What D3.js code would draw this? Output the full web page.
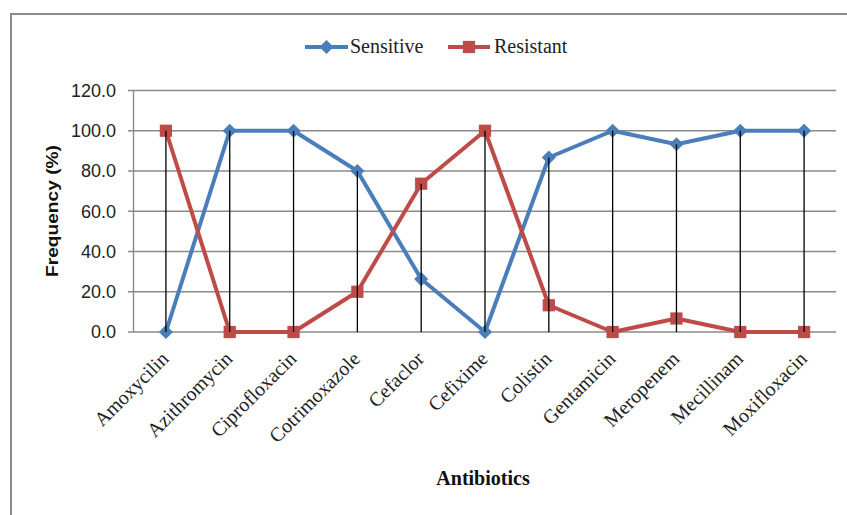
<!DOCTYPE html>
<html><head><meta charset="utf-8">
<script src="https://cdn.jsdelivr.net/npm/d3@7"></script>
<style>body{margin:0;background:#fff}svg{display:block}</style>
</head><body>
<svg id="c" width="847" height="515"></svg>
<script>
const categories = ["Amoxycilin","Azithromycin","Ciprofloxacin","Cotrimoxazole","Cefaclor","Cefixime","Colistin","Gentamicin","Meropenem","Mecillinam","Moxifloxacin"];
const sensitive = [0, 100, 100, 80, 26.3, 0, 86.7, 100, 93.3, 100, 100];
const resistant = [100, 0, 0, 20, 73.7, 100, 13.3, 0, 6.7, 0, 0];
const yTicks = [0, 20, 40, 60, 80, 100, 120];
const seriesNames = ["Sensitive", "Resistant"];

(function () {
const svg = d3.select("#c");
const W = 847, H = 515;
const pLeft = 134, pRight = 836, pTop = 90.5, pBottom = 332;
const blue = "#4a7ebb", red = "#be4b48", grid = "#8a8a8a";

// chart border
svg.append("rect").attr("x", 11).attr("y", 14).attr("width", W).attr("height", H)
  .attr("fill", "none").attr("stroke", "#8a8a8a").attr("stroke-width", 2);

const x = d3.scalePoint().domain(categories).range([pLeft, pRight]).padding(0.5);
const y = d3.scaleLinear().domain([0, 120]).range([pBottom, pTop]);

// gridlines
svg.append("g").selectAll("line").data(yTicks).join("line")
  .attr("x1", pLeft - 6).attr("x2", pRight)
  .attr("y1", d => y(d)).attr("y2", d => y(d))
  .attr("stroke", grid).attr("stroke-width", 1.4);
// y axis line
svg.append("line").attr("x1", pLeft - 0.5).attr("x2", pLeft - 0.5).attr("y1", y(120)).attr("y2", y(0))
  .attr("stroke", grid).attr("stroke-width", 1.4);

// y tick labels
svg.append("g").selectAll("text").data(yTicks).join("text")
  .attr("x", 116).attr("y", d => y(d)).attr("dy", "0.36em")
  .attr("text-anchor", "end")
  .attr("font-family", "Liberation Sans, Arial, sans-serif").attr("font-size", 18).attr("fill", "#222")
  .text(d => d3.format(".1f")(d));

// y title
svg.append("text").attr("transform", "translate(58,211) rotate(-90)")
  .attr("text-anchor", "middle")
  .attr("font-family", "Liberation Sans, Arial, sans-serif").attr("font-weight", "bold")
  .attr("font-size", 17).attr("fill", "#111")
  .attr("textLength", 132).attr("lengthAdjust", "spacingAndGlyphs")
  .text("Frequency (%)");

// x labels
svg.append("g").selectAll("text").data(categories).join("text")
  .attr("transform", d => `translate(${x(d) - 1},355) rotate(-45)`)
  .attr("dy", "0.35em")
  .attr("text-anchor", "end")
  .attr("font-family", "Liberation Serif, Times New Roman, serif").attr("font-size", 20).attr("fill", "#222")
  .text(d => d);

// x title
svg.append("text").attr("x", 483).attr("y", 485).attr("text-anchor", "middle")
  .attr("font-family", "Liberation Serif, Times New Roman, serif").attr("font-weight", "bold")
  .attr("font-size", 20).attr("fill", "#111").text("Antibiotics");

// lines
const line = d3.line().x((d, i) => x(categories[i])).y(d => y(d));
svg.append("path").datum(sensitive).attr("d", line).attr("fill", "none")
  .attr("stroke", blue).attr("stroke-width", 4).attr("stroke-linejoin", "round");
svg.append("path").datum(resistant).attr("d", line).attr("fill", "none")
  .attr("stroke", red).attr("stroke-width", 4).attr("stroke-linejoin", "round");

const dia = d3.symbol().type(d3.symbolSquare).size(100);
const sq = d3.symbol().type(d3.symbolSquare).size(150);

svg.append("g").selectAll("path").data(sensitive).join("path")
  .attr("transform", (d, i) => `translate(${x(categories[i])},${y(d)}) rotate(45)`)
  .attr("d", dia).attr("fill", blue);
svg.append("g").selectAll("path").data(resistant).join("path")
  .attr("transform", (d, i) => `translate(${x(categories[i])},${y(d)})`)
  .attr("d", sq).attr("fill", red);

// drop lines
svg.append("g").selectAll("line").data(categories).join("line")
  .attr("x1", d => x(d)).attr("x2", d => x(d))
  .attr("y1", (d, i) => y(Math.max(sensitive[i], resistant[i])))
  .attr("y2", y(0))
  .attr("stroke", "#000").attr("stroke-width", 1.3);

// legend
const lg = svg.append("g");
const leg = [
  {name: seriesNames[0], color: blue, x0: 305, x1: 348, tx: 350, sym: "d"},
  {name: seriesNames[1], color: red, x0: 448, x1: 490, tx: 494, sym: "s"}
];
leg.forEach(l => {
  lg.append("line").attr("x1", l.x0).attr("x2", l.x1).attr("y1", 47).attr("y2", 47)
    .attr("stroke", l.color).attr("stroke-width", 4);
  const cx = (l.x0 + l.x1) / 2;
  if (l.sym === "d") {
    lg.append("path").attr("transform", `translate(${cx},47) rotate(45)`).attr("d", dia).attr("fill", l.color);
  } else {
    lg.append("path").attr("transform", `translate(${cx},47)`).attr("d", sq).attr("fill", l.color);
  }
  lg.append("text").attr("x", l.tx).attr("y", 53)
    .attr("font-family", "Liberation Serif, Times New Roman, serif").attr("font-size", 20)
    .attr("fill", "#222").text(l.name);
});
})();
</script>
</body></html>
